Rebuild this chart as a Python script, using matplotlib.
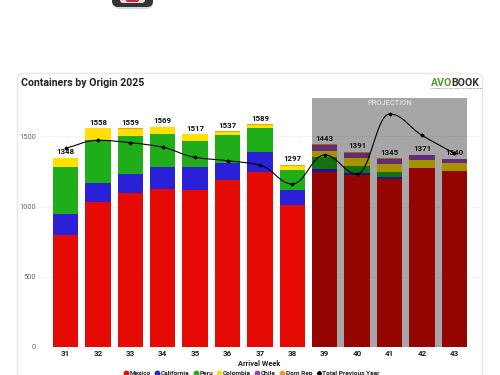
import numpy as np
import matplotlib
matplotlib.use("Agg")
import matplotlib.pyplot as plt
from matplotlib.path import Path
from matplotlib.patches import PathPatch, FancyBboxPatch
from matplotlib.lines import Line2D

plt.rcParams['font.family'] = ['Roboto', 'DejaVu Sans']

weeks = [31, 32, 33, 34, 35, 36, 37, 38, 39, 40, 41, 42, 43]
mexico = [796, 1030, 1097, 1125, 1118, 1189, 1246, 1010, 1246, 1225, 1194, 1277, 1251]
california = [150, 138, 138, 158, 165, 122, 144, 108, 22, 14, 19, 0, 0]
peru = [337, 307, 272, 235, 185, 200, 171, 143, 86, 52, 31, 0, 0]
colombia = [65, 83, 48, 47, 49, 19, 21, 29, 43, 57, 59, 55, 60]
chile = [0, 0, 0, 0, 0, 0, 0, 0, 42, 34, 37, 34, 25]
dom_rep = [0, 0, 4, 4, 0, 7, 7, 7, 4, 9, 5, 5, 4]
totals = [1348, 1558, 1559, 1569, 1517, 1537, 1589, 1297, 1443, 1391, 1345, 1371, 1340]
prev_year = [1416, 1473, 1456, 1423, 1351, 1327, 1296, 1161, 1368, 1232, 1661, 1509, 1380]

names = ["Mexico", "California", "Peru", "Colombia", "Chile", "Dom Rep"]
series = [mexico, california, peru, colombia, chile, dom_rep]
colors = ["#e60a05", "#2a20d8", "#1fad1a", "#ffe000", "#9a45b5", "#f0a020"]

W, H = 500, 375
fig = plt.figure(figsize=(5, 3.75), dpi=100)

# page layer in pixel coords: card, icon at the top
bg = fig.add_axes([0, 0, 1, 1], zorder=0)
bg.set_xlim(0, W)
bg.set_ylim(H, 0)
bg.axis("off")
bg.add_patch(FancyBboxPatch((17.5, 73.5), 465, 340, boxstyle="round,pad=0,rounding_size=6",
                            fc="white", ec="#e8e8e8", lw=1))
bg.add_patch(FancyBboxPatch((114, -12), 39, 21, boxstyle="round,pad=0,rounding_size=6",
                            fc="#bdbdbd", ec="none", alpha=0.6))
bg.add_patch(FancyBboxPatch((112, -14), 41, 21, boxstyle="round,pad=0,rounding_size=6",
                            fc="#33333a", ec="none"))
bg.add_patch(FancyBboxPatch((120, -10), 25, 13, boxstyle="round,pad=0,rounding_size=3",
                            fc="#f0d8dc", ec="none"))
bg.add_patch(FancyBboxPatch((126, -6), 13, 8, boxstyle="round,pad=0,rounding_size=2",
                            fc="#c8283c", ec="none"))
bg.text(21, 83.5, "Containers by Origin 2025", fontsize=7.6, fontweight="bold",
        color="#222222", va="center", ha="left")
bg.text(431, 83.5, "AVO", fontsize=7.6, fontweight="bold", color="#4f9a2c", va="center", ha="left")
bg.text(479.5, 83.5, "BOOK", fontsize=7.6, fontweight="bold", color="#333333", va="center", ha="right")
bg.text(431, 88.8, "CONNECTING THE GLOBAL AVOCADO MARKET", fontsize=1.7, color="#555555",
        va="center", ha="left")

# axes placed so that week 31 is at x=65.5 px and 0 at y=346.5 px
left, right, top, bottom = 39, 480, 97.5, 346.5
ax = fig.add_axes([left / W, 1 - bottom / H, (right - left) / W, (bottom - top) / H], zorder=1)
ax.patch.set_alpha(0)
step = 32.4
ax.set_xlim(31 - (65.5 - left) / step, 31 + (right - 65.5) / step)
ax.set_ylim(0, (bottom - top) / 0.14)

base = np.zeros(len(weeks))
for name, vals, c in zip(names, series, colors):
    ax.bar(weeks, vals, width=0.79, bottom=base, color=c, label=name, zorder=2)
    base = base + np.array(vals)

# projection band, darkens the bars under it
ax.axvspan(38.6, 43.4, color="black", alpha=0.35, lw=0, zorder=3)
ax.text(41, 1738, "PROJECTION", color="#eeeeee", fontsize=5.4, ha="center", va="center", zorder=6)

# smooth line through the points, flat at the turning points
xs = np.array(weeks, dtype=float)
ys = np.array(prev_year, dtype=float)
d = np.diff(ys)
slope = np.zeros(len(ys))
for i in range(1, len(ys) - 1):
    if d[i - 1] * d[i] > 0:
        slope[i] = 2 * d[i - 1] * d[i] / (d[i - 1] + d[i])
slope[0] = d[0]
slope[-1] = d[-1]
verts = [(xs[0], ys[0])]
codes = [Path.MOVETO]
for i in range(len(xs) - 1):
    verts += [(xs[i] + 0.4, ys[i] + 0.4 * slope[i]),
              (xs[i + 1] - 0.4, ys[i + 1] - 0.4 * slope[i + 1]),
              (xs[i + 1], ys[i + 1])]
    codes += [Path.CURVE4, Path.CURVE4, Path.CURVE4]
ax.add_patch(PathPatch(Path(verts, codes), fc="none", ec="black", lw=0.8, zorder=4))
ax.plot(weeks, prev_year, ls="none", marker="D", ms=1.5, color="black", zorder=5)

for w, t in zip(weeks, totals):
    ax.annotate(str(t), (w, t), xytext=(0, 1.8), textcoords="offset points", ha="center", va="bottom",
                fontsize=5.7, fontweight="bold", color="#111111", zorder=6)

ax.set_xticks(weeks)
ax.set_yticks([0, 500, 1000, 1500])
ax.tick_params(axis="x", length=0, pad=2.5, labelsize=5.8, labelcolor="#222222")
ax.tick_params(axis="y", length=0, pad=2, labelsize=5.4, labelcolor="#666666")
for lab in ax.get_xticklabels():
    lab.set_fontweight("bold")
ax.grid(axis="y", color="#dddddd", ls=":", lw=0.6, zorder=1)
ax.set_axisbelow(True)
for s in ax.spines.values():
    s.set_visible(False)
ax.axhline(0, color="#dbe6f0", lw=0.7, zorder=1)
ax.set_xlabel("Arrival Week", fontsize=5.3, fontweight="bold", color="#222222", labelpad=2.2)

handles = [Line2D([], [], ls="none", marker="o", ms=3.2, color=c, label=n) for n, c in zip(names, colors)]
handles.append(Line2D([], [], ls="none", marker="D", ms=2.2, color="black", label="Total Previous Year"))
leg = fig.legend(handles=handles, loc="center", bbox_to_anchor=(251 / W, 1 - 373.5 / H), ncol=7,
                 frameon=False, fontsize=4.65, handletextpad=0.0, columnspacing=0.45, handlelength=1.1,
                 borderpad=0)
for t in leg.get_texts():
    t.set_fontweight("bold")
    t.set_color("#222222")

fig.savefig("out.png", dpi=100)
